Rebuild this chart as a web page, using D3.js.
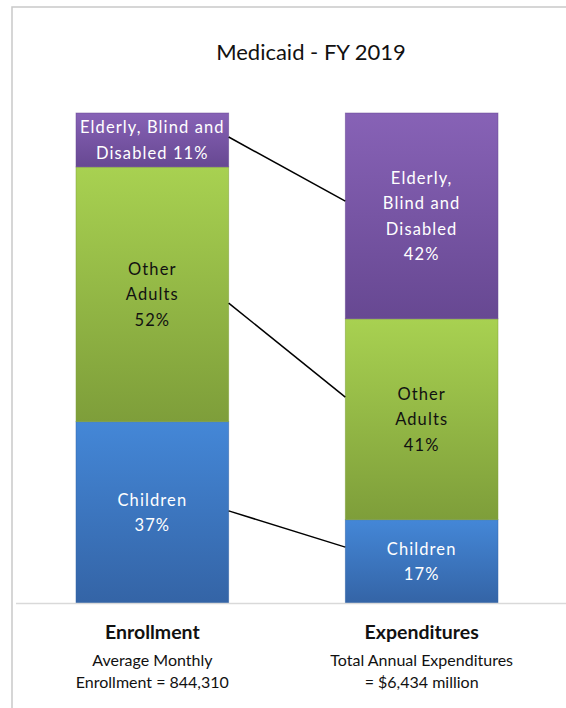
<!DOCTYPE html>
<html><head><meta charset="utf-8">
<script src="https://cdn.jsdelivr.net/npm/d3@7"></script>
<style>html,body{margin:0;padding:0;background:#fff;}svg{display:block;}</style>
</head><body>
<script>
const title = "Medicaid - FY 2019";
const categories = ["Enrollment", "Expenditures"];
const subtitles = [["Average Monthly", "Enrollment = 844,310"], ["Total Annual Expenditures", "= $6,434 million"]];
const seriesNames = ["Children", "Other Adults", "Elderly, Blind and Disabled"];
const enrollment = [37, 52, 11];
const expenditures = [17, 41, 42];
const leftLabels = [["Children", "37%"], ["Other", "Adults", "52%"], ["Elderly, Blind and", "Disabled 11%"]];
const rightLabels = [["Children", "17%"], ["Other", "Adults", "41%"], ["Elderly,", "Blind and", "Disabled", "42%"]];
// connector endpoints in % of stack height
const connectorFrom = [18.8, 61.2, 95.1];
const connectorTo = [11.4, 42.0, 82.0];

const W = 566, H = 708;
const svg = d3.select("body").append("svg").attr("width", W).attr("height", H);
const font = "Lato, 'Open Sans', sans-serif";

const topColors = ["#4487d7", "#a8d151", "#8762b6"];
const botColors = ["#3464a6", "#7e9e3a", "#674892"];
const textColors = ["#ffffff", "#111111", "#ffffff"];
const defs = svg.append("defs");
seriesNames.forEach((s, i) => {
  const g = defs.append("linearGradient").attr("id", "g" + i).attr("x1", 0).attr("y1", 0).attr("x2", 0).attr("y2", 1);
  g.append("stop").attr("offset", "0%").attr("stop-color", topColors[i]);
  g.append("stop").attr("offset", "100%").attr("stop-color", botColors[i]);
});

// border
svg.append("rect").attr("x", 12).attr("y", 7).attr("width", W).attr("height", H).attr("fill", "none").attr("stroke", "#c9c9c9").attr("stroke-width", 1.5);

svg.append("text").attr("x", 311).attr("y", 60).attr("text-anchor", "middle").attr("font-family", font).attr("font-size", 22).attr("fill", "#111").text(title);

const x = d3.scaleBand().domain(categories).range([76, 498]).paddingInner(0.433).paddingOuter(0);
const y = d3.scaleLinear().domain([0, 100]).range([603, 113]);

const data = [enrollment, expenditures];
const labels = [leftLabels, rightLabels];
data.forEach((vals, ci) => {
  const cx = x(categories[ci]);
  let cum = 0;
  vals.forEach((v, si) => {
    const y0 = y(cum), y1 = y(cum + v);
    svg.append("rect").attr("x", cx).attr("y", y1).attr("width", x.bandwidth()).attr("height", y0 - y1)
      .attr("fill", `url(#g${si})`).attr("stroke", botColors[si]).attr("stroke-width", 0.8).attr("stroke-opacity", 0.6);
    const lines = labels[ci][si];
    const mid = (y0 + y1) / 2;
    const lh = 25.5;
    const t = svg.append("text").attr("text-anchor", "middle").attr("font-family", font).attr("font-size", 16.5)
      .attr("letter-spacing", 1.1).attr("fill", textColors[si]);
    lines.forEach((ln, li) => {
      t.append("tspan").attr("x", cx + x.bandwidth() / 2)
        .attr("y", mid + (li - (lines.length - 1) / 2) * lh + 6).text(ln);
    });
    cum += v;
  });
});

// axis baseline
svg.append("line").attr("x1", 16).attr("x2", W).attr("y1", 603.5).attr("y2", 603.5).attr("stroke", "#d9d9d9").attr("stroke-width", 1.5);

// connectors
const xl = x(categories[0]) + x.bandwidth(), xr = x(categories[1]);
connectorFrom.forEach((f, i) => {
  svg.append("line").attr("x1", xl).attr("y1", y(f)).attr("x2", xr).attr("y2", y(connectorTo[i]))
    .attr("stroke", "#000").attr("stroke-width", 1.5);
});

// category labels
categories.forEach((c, i) => {
  const cx = x(c) + x.bandwidth() / 2;
  svg.append("text").attr("x", cx).attr("y", 639).attr("text-anchor", "middle").attr("font-family", font)
    .attr("font-size", 19.5).attr("font-weight", "bold").attr("fill", "#111").text(c);
  subtitles[i].forEach((s, j) => {
    svg.append("text").attr("x", cx).attr("y", 666 + j * 22).attr("text-anchor", "middle").attr("font-family", font)
      .attr("font-size", 16).attr("fill", "#111").text(s);
  });
});
</script>
</body></html>
